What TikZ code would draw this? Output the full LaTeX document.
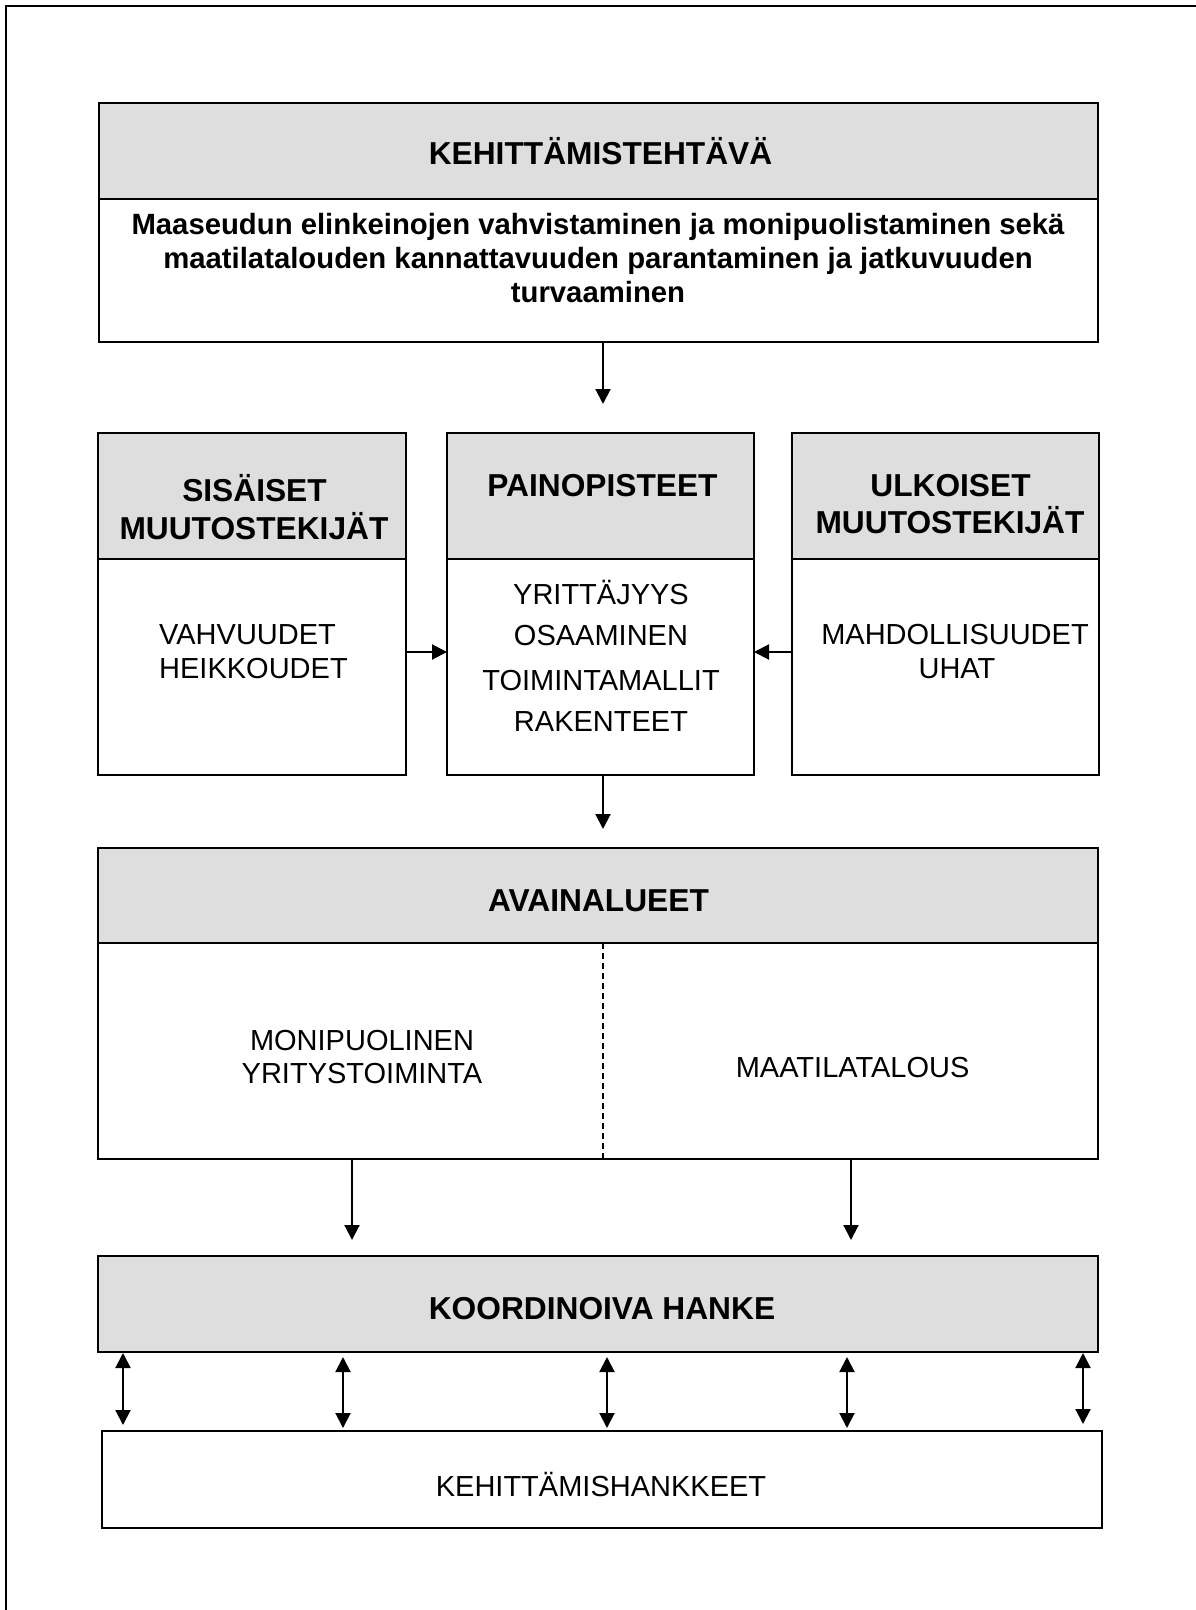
\documentclass[tikz,border=0pt]{standalone}
\usepackage{fontspec}
\setmainfont{Liberation Sans}
\usetikzlibrary{arrows.meta}
\definecolor{hdrgray}{HTML}{DEDEDE}
\begin{document}
\begin{tikzpicture}[x=1pt,y=-1pt,
  boxline/.style={draw=black, line width=2pt, inner sep=0pt, outer sep=0pt, anchor=north west, rectangle},
  hdr/.style={boxline, fill=hdrgray},
  bod/.style={boxline, fill=white},
  lbl/.style={anchor=base, inner sep=0pt},
  hfont/.style={lbl, font=\fontsize{31.7}{38}\selectfont\bfseries},
  rfont/.style={lbl, font=\fontsize{29}{34}\selectfont},
  tfont/.style={lbl, font=\fontsize{29.3}{34}\selectfont\bfseries},
  arr/.style={line width=2pt, -{Triangle[length=15pt,width=15pt]}},
  darr/.style={line width=2pt, {Triangle[length=15pt,width=15pt]}-{Triangle[length=15pt,width=15pt]}},
  dashline/.style={line width=1.6pt, dash pattern=on 6pt off 4pt},
]
\useasboundingbox (0,0) rectangle (1195,1610);
\fill[white] (0,0) rectangle (1195,1610);
\draw[line width=2pt] (6,1614) -- (6,6) -- (1199,6);

% top box
\node[hdr, minimum width=999pt, minimum height=96pt] (hdrTop) at (99,103) {};
\node[bod, minimum width=999pt, minimum height=143pt] (bodyTop) at (99,199) {};
\node[hfont] (tTop) at (600.5,164.5) {KEHITTÄMISTEHTÄVÄ};
\node[tfont] (b1) at (598,234) {Maaseudun elinkeinojen vahvistaminen ja monipuolistaminen sekä};
\node[tfont] (b2) at (598,268) {maatilatalouden kannattavuuden parantaminen ja jatkuvuuden};
\node[tfont] (b3) at (598,302) {turvaaminen};

% middle row
\node[hdr, minimum width=308pt, minimum height=126pt] (hdrL) at (98,433) {};
\node[bod, minimum width=308pt, minimum height=216pt] (bodyL) at (98,559) {};
\node[hdr, minimum width=307pt, minimum height=126pt] (hdrC) at (447,433) {};
\node[bod, minimum width=307pt, minimum height=216pt] (bodyC) at (447,559) {};
\node[hdr, minimum width=307pt, minimum height=126pt] (hdrR) at (792,433) {};
\node[bod, minimum width=307pt, minimum height=216pt] (bodyR) at (792,559) {};

\node[hfont] (sL1) at (254.5,501.7) {SISÄISET};
\node[hfont] (sL2) at (254,539.3) {MUUTOSTEKIJÄT};
\node[rfont, anchor=base west] (vL1) at (159,644) {VAHVUUDET};
\node[rfont, anchor=base west] (vL2) at (159,678.3) {HEIKKOUDET};

\node[hfont] (pC) at (602.5,496.7) {PAINOPISTEET};
\node[rfont] (c1) at (601,604) {YRITTÄJYYS};
\node[rfont] (c2) at (601,645.7) {OSAAMINEN};
\node[rfont] (c3) at (601,690.7) {TOIMINTAMALLIT};
\node[rfont] (c4) at (601,731) {RAKENTEET};

\node[hfont] (uR1) at (950.5,496) {ULKOISET};
\node[hfont] (uR2) at (950,533.3) {MUUTOSTEKIJÄT};
\node[rfont] (mR1) at (955,644) {MAHDOLLISUUDET};
\node[rfont] (mR2) at (957,678.3) {UHAT};

% avainalueet
\node[hdr, minimum width=1000pt, minimum height=95pt] (hdrA) at (98,848) {};
\node[bod, minimum width=1000pt, minimum height=216pt] (bodyA) at (98,943) {};
\node[hfont] (tA) at (598.5,911.7) {AVAINALUEET};
\node[rfont] (aL1) at (362,1050.5) {MONIPUOLINEN};
\node[rfont] (aL2) at (362,1083) {YRITYSTOIMINTA};
\node[rfont] (aR) at (852.6,1077) {MAATILATALOUS};
\coordinate (dsh) at (603,0);
\draw[dashline] (hdrA.south -| dsh) -- (bodyA.south -| dsh);

% koordinoiva hanke
\node[hdr, minimum width=1000pt, minimum height=96pt] (hdrK) at (98,1256) {};
\node[hfont] (tK) at (602,1319) {KOORDINOIVA HANKE};

% kehittamishankkeet
\node[bod, minimum width=1000pt, minimum height=97pt] (boxH) at (102,1431) {};
\node[rfont] (tH) at (601,1496) {KEHITTÄMISHANKKEET};

% arrows
\coordinate (a1end) at (603,404);
\draw[arr] (bodyTop.south -| a1end) -- (a1end);
\coordinate (midy) at (0,652);
\draw[arr] (bodyL.east |- midy) -- (bodyC.west |- midy);
\draw[arr] (bodyR.west |- midy) -- (bodyC.east |- midy);
\coordinate (a4end) at (603,829);
\draw[arr] (bodyC.south -| a4end) -- (a4end);
\coordinate (a5end) at (352,1240);
\draw[arr] (bodyA.south -| a5end) -- (a5end);
\coordinate (a6end) at (851,1240);
\draw[arr] (bodyA.south -| a6end) -- (a6end);

\foreach \i/\x/\ts/\bs in {1/123/-1/6, 2/343/-5/3, 3/607/-5/3, 4/847/-5/3, 5/1083/-1/7}{
  \coordinate (dx\i) at (\x,0);
  \draw[darr] ([yshift=\ts pt]hdrK.south -| dx\i) -- ([yshift=\bs pt]boxH.north -| dx\i);
}
\end{tikzpicture}
\end{document}
